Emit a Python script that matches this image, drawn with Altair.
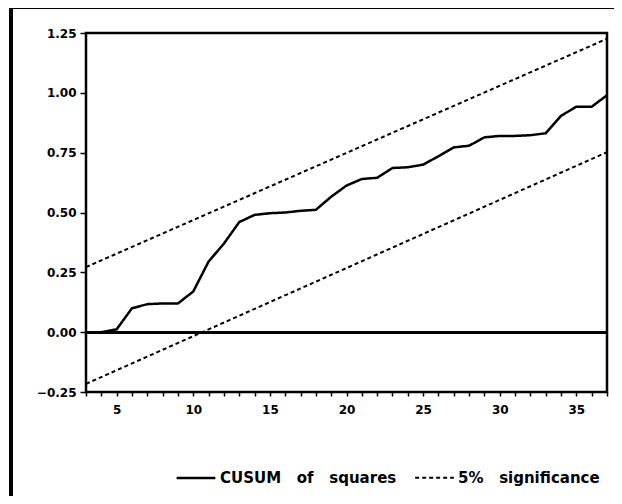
import altair as alt
import pandas as pd

# CUSUM of squares values read at each observation 3..37
x_obs = list(range(3, 38))
cusum_sq = [0.0, 0.0, 0.012, 0.10, 0.117, 0.12, 0.12, 0.17, 0.295, 0.37,
            0.46, 0.49, 0.497, 0.50, 0.507, 0.511, 0.566, 0.6125, 0.64, 0.645,
            0.686, 0.689, 0.70, 0.735, 0.772, 0.779, 0.814, 0.82, 0.82, 0.823,
            0.831, 0.904, 0.942, 0.942, 0.99]

# 5% significance bounds (straight lines, endpoints)
sig_x = [3, 37]
sig_upper = [0.272, 1.226]
sig_lower = [-0.216, 0.752]

x_ticks = list(range(3, 38))
y_ticks = [-0.25, 0.0, 0.25, 0.5, 0.75, 1.0, 1.25]

S1 = "CUSUM of squares"
S2 = "5% significance"

rows = []
for xv, yv in zip(x_obs, cusum_sq):
    rows.append({"x": xv, "y": yv, "series": S1, "id": "cusum"})
for xv, yv in zip(sig_x, sig_upper):
    rows.append({"x": xv, "y": yv, "series": S2, "id": "upper"})
for xv, yv in zip(sig_x, sig_lower):
    rows.append({"x": xv, "y": yv, "series": S2, "id": "lower"})
df = pd.DataFrame(rows)

FONT = "DejaVu Sans"
NB3 = "\u00a0\u00a0\u00a0"

xscale = alt.Scale(domain=[3, 37], nice=False, zero=False)
yscale = alt.Scale(domain=[-0.25, 1.25], nice=False, zero=False)

# outer page frame (decorative border, only top and left edges are visible)
frame_top = alt.Chart(df).mark_rule(color="black", strokeWidth=2.5).encode(
    x=alt.value(-75), x2=alt.value(900), y=alt.value(-26)
)
frame_left = alt.Chart(df).mark_rule(color="black", strokeWidth=2.5).encode(
    x=alt.value(-75), y=alt.value(-26), y2=alt.value(900)
)

lines = alt.Chart(df).mark_line(color="black", clip=True).encode(
    x=alt.X("x:Q", scale=xscale, title=None,
            axis=alt.Axis(values=x_ticks, grid=False,
                          labelExpr="datum.value % 5 == 0 ? datum.label : ''",
                          labelOverlap=False, labelFlush=False,
                          tickSize=4, labelPadding=8)),
    y=alt.Y("y:Q", scale=yscale, title=None,
            axis=alt.Axis(values=y_ticks, format=".2f", tickSize=6, grid=False,
                          labelPadding=4, labelOverlap=False, labelFlush=False)),
    strokeDash=alt.StrokeDash(
        "series:N",
        scale=alt.Scale(domain=[S1, S2], range=[[1, 0], [4, 3]]),
        legend=alt.Legend(
            title=None, orient="none", legendX=89, legendY=424,
            direction="horizontal", symbolType="stroke",
            symbolStrokeColor="black", symbolStrokeWidth=2,
            symbolSize=1500, labelFont=FONT, labelFontSize=15,
            labelFontWeight="bold", labelColor="black", labelLimit=400,
            labelOffset=3, columnPadding=14, padding=0,
            labelExpr="datum.label == 'CUSUM of squares' ? 'CUSUM" + NB3 + "of" + NB3 + "squares' : '5%" + NB3 + "significance'",
        ),
    ),
    strokeWidth=alt.StrokeWidth(
        "series:N", scale=alt.Scale(domain=[S1, S2], range=[2.5, 2]), legend=None
    ),
    detail="id:N",
    order="x:Q",
)

zero = alt.Chart(df).mark_rule(color="black", strokeWidth=2).encode(
    y=alt.datum(0, scale=yscale)
)

chart = alt.layer(frame_top, frame_left, zero, lines).properties(
    width=521, height=359,
    autosize=alt.AutoSizeParams(type="none"),
    padding={"left": 78, "top": 25, "right": 7, "bottom": 104},
    background="white",
).configure_view(
    stroke="black", strokeWidth=2.5
).configure_axis(
    domain=False, grid=False, tickColor="black", tickWidth=1.5,
    labelColor="black", labelFont=FONT, labelFontSize=12,
    labelFontWeight="bold"
)

chart.save("out.html", embed_options={"renderer": "svg", "actions": False})
